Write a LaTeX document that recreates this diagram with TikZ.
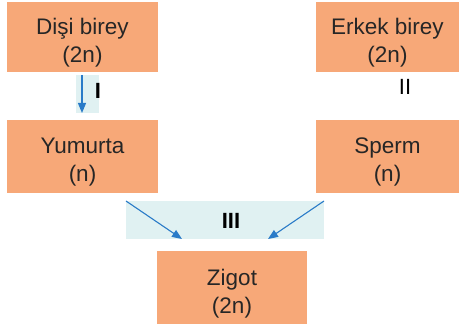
\documentclass[tikz,border=0pt]{standalone}
\usepackage{fontspec}
\setmainfont{Liberation Sans}
\usetikzlibrary{arrows.meta}
\definecolor{boxor}{HTML}{F7A878}
\definecolor{bandbl}{HTML}{E0F1F2}
\definecolor{arrbl}{HTML}{2A7BC8}
\definecolor{txt}{HTML}{262626}
\tikzset{
  stagebox/.style={rectangle, fill=boxor, inner sep=0pt},
  stagetext/.style={inner sep=0pt, align=center, text=txt,
    font=\fontsize{22.5}{28.5}\selectfont},
  band/.style={fill=bandbl, draw=none},
  flow/.style={draw=arrbl, line width=1.1pt, -{Triangle[length=10pt,width=8pt]}},
  roman/.style={font=\fontsize{22}{25}\selectfont, text=black, inner sep=0pt}
}
\begin{document}
\begin{tikzpicture}[x=1pt,y=-1pt]
\useasboundingbox (0,0) rectangle (459,329);
\node[stagebox, minimum width=151pt, minimum height=70pt] (disi) at (82.5,37) {};
\node[stagebox, minimum width=143pt, minimum height=70pt] (erkek) at (387.5,37) {};
\node[stagebox, minimum width=151pt, minimum height=73pt] (yum) at (82.5,156.5) {};
\node[stagebox, minimum width=143pt, minimum height=73pt] (sperm) at (387.5,156.5) {};
\node[stagebox, minimum width=150pt, minimum height=73pt] (zigot) at (232,287.5) {};
\node[stagetext] (disit) at ([yshift=-5.5pt]disi.center) {Dişi birey\\(2n)};
\node[stagetext] (erkekt) at ([yshift=-5.5pt]erkek.center) {Erkek birey\\(2n)};
\node[stagetext] (yumt) at ([yshift=-5.5pt]yum.center) {Yumurta\\(n)};
\node[stagetext] (spermt) at ([yshift=-5.5pt]sperm.center) {Sperm\\(n)};
\node[stagetext] (zigott) at ([yshift=-6pt]zigot.center) {Zigot\\(2n)};
\fill[band] (76,75) rectangle (99,113);
\fill[band] (126,201) rectangle (324,239);
\coordinate (a1s) at (82,75);
\coordinate (a1e) at (82,113);
\coordinate (a2s) at (126,201);
\coordinate (a2e) at (182,239);
\coordinate (a3s) at (324,201);
\coordinate (a3e) at (268,239);
\draw[flow] (a1s) -- (a1e);
\draw[flow] (a2s) -- (a2e);
\draw[flow] (a3s) -- (a3e);
\node[roman, font=\fontsize{22}{25}\bfseries] (l1) at (98,91) {I};
\node[roman] (l2) at (405,87) {II};
\node[roman, font=\fontsize{22}{25}\bfseries] (l3) at (231,221) {III};
\end{tikzpicture}
\end{document}
